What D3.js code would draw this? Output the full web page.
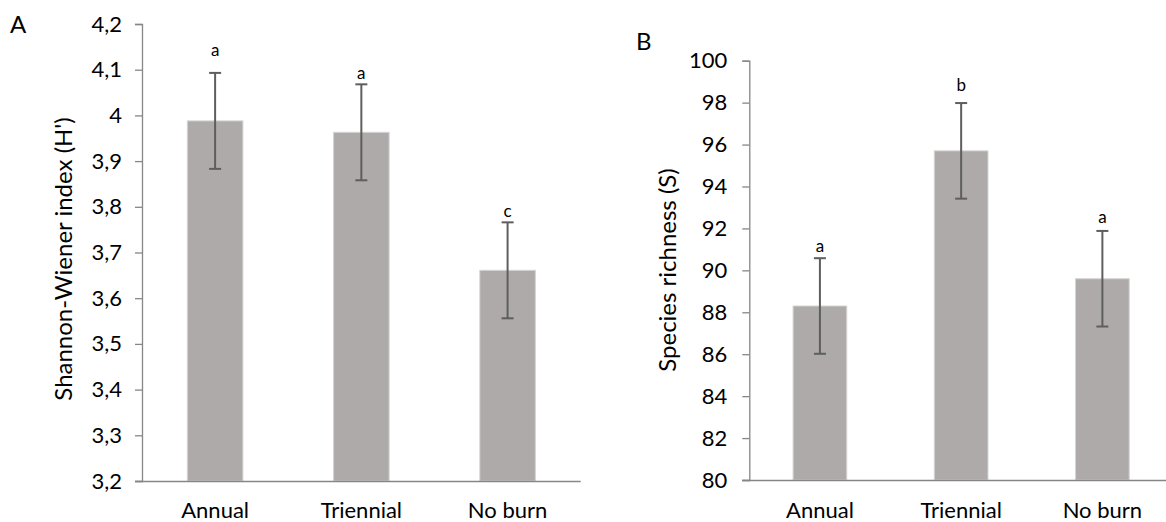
<!DOCTYPE html>
<html>
<head>
<meta charset="utf-8">
<script src="https://cdn.jsdelivr.net/npm/d3@7"></script>
<style>
  html, body { margin: 0; padding: 0; background: #fff; }
  svg { display: block; font-family: Lato, "Liberation Sans", sans-serif; }
</style>
</head>
<body>
<svg id="chart" width="1166" height="522"></svg>
<script>
// Burn treatments shared by both panels
const categories = ["Annual", "Triennial", "No burn"];

// Panel A: Shannon-Wiener diversity
const shannonMean = [3.988, 3.963, 3.661];
const shannonSE = [0.105, 0.105, 0.105];
const shannonLetters = ["a", "a", "c"];
const shannonLetterAt = [4.140, 4.090, 3.788];
const shannonTicks = [3.2, 3.3, 3.4, 3.5, 3.6, 3.7, 3.8, 3.9, 4.0, 4.1, 4.2];

// Panel B: species richness
const richnessMean = [88.3, 95.7, 89.6];
const richnessSE = [2.28, 2.28, 2.28];
const richnessLetters = ["a", "b", "a"];
const richnessLetterAt = [91.1, 98.75, 92.45];
const richnessTicks = [80, 82, 84, 86, 88, 90, 92, 94, 96, 98, 100];

const svg = d3.select("#chart");
const commaFmt = v => String(+v.toFixed(1)).replace(".", ",");
const FONT = "Lato, 'Liberation Sans', sans-serif";

function panel(opts) {
  const g = svg.append("g");
  const x = d3.scaleBand().domain(categories)
    .range([opts.x0, opts.x1]).paddingInner(opts.pad).paddingOuter(opts.pad / 2);
  const y = d3.scaleLinear().domain(opts.domain).range([opts.yBottom, opts.yTop]);

  // bars
  g.selectAll("rect.bar").data(categories).join("rect")
    .attr("class", "bar")
    .attr("x", d => x(d))
    .attr("width", x.bandwidth())
    .attr("y", (d, i) => y(opts.mean[i]))
    .attr("height", (d, i) => y(opts.domain[0]) - y(opts.mean[i]))
    .attr("fill", "#aeaaa9")
    .attr("stroke", "#d6d4d3")
    .attr("stroke-width", 1);

  // error bars
  const cx = d => x(d) + x.bandwidth() / 2;
  const eb = g.selectAll("g.err").data(categories).join("g").attr("class", "err")
    .attr("stroke", "#5e5e5e").attr("stroke-width", 2);
  eb.append("line")
    .attr("x1", cx).attr("x2", cx)
    .attr("y1", (d, i) => y(opts.mean[i] + opts.se[i]))
    .attr("y2", (d, i) => y(opts.mean[i] - opts.se[i]));
  [1, -1].forEach(s => {
    eb.append("line")
      .attr("x1", d => cx(d) - 6).attr("x2", d => cx(d) + 6)
      .attr("y1", (d, i) => y(opts.mean[i] + s * opts.se[i]))
      .attr("y2", (d, i) => y(opts.mean[i] + s * opts.se[i]));
  });

  // significance letters
  g.selectAll("text.letter").data(categories).join("text")
    .attr("class", "letter")
    .attr("x", cx)
    .attr("y", (d, i) => y(opts.letterAt[i]))
    .attr("text-anchor", "middle")
    .attr("dominant-baseline", "middle")
    .attr("font-size", 17)
    .attr("fill", "#000")
    .text((d, i) => opts.letters[i]);

  // y axis
  const yAxis = g.append("g")
    .attr("transform", `translate(${opts.x0},0)`)
    .call(d3.axisLeft(y).tickValues(opts.ticks).tickFormat(opts.fmt).tickSize(7).tickPadding(opts.tickPad));
  yAxis.select(".domain").attr("stroke", "#868686").attr("stroke-width", 1.3);
  yAxis.selectAll(".tick line").attr("stroke", "#868686").attr("stroke-width", 1.3);
  yAxis.selectAll(".tick text").attr("font-size", 22).attr("fill", "#000")
    .attr("font-family", FONT);

  // x axis
  const xAxis = g.append("g")
    .attr("transform", `translate(0,${opts.yBottom})`)
    .call(d3.axisBottom(x).tickSize(0).tickPadding(opts.catPad));
  xAxis.select(".domain").attr("stroke", "#868686").attr("stroke-width", 1.3)
    .attr("d", `M${opts.x0 - 7},0.5H${opts.x1}`);
  xAxis.selectAll(".tick text").attr("font-size", 22).attr("fill", "#000")
    .attr("font-family", FONT);

  // axis title
  g.append("text")
    .attr("transform", `translate(${opts.titleX},${opts.titleY}) rotate(-90)`)
    .attr("text-anchor", "middle")
    .attr("dominant-baseline", "middle")
    .attr("font-size", 24)
    .attr("fill", "#000")
    .text(opts.title);

  // panel letter
  svg.append("text")
    .attr("x", opts.tagX).attr("y", opts.tagY)
    .attr("font-size", 24).attr("fill", "#000")
    .text(opts.tag);
}

panel({
  x0: 142, x1: 580.7, yTop: 24, yBottom: 481,
  pad: 0.62, tickPad: 13, catPad: 21,
  domain: [3.2, 4.2], ticks: shannonTicks, fmt: commaFmt,
  mean: shannonMean, se: shannonSE, letters: shannonLetters, letterAt: shannonLetterAt,
  title: "Shannon-Wiener index (H')", titleX: 66, titleY: 259,
  tag: "A", tagX: 10, tagY: 33
});

panel({
  x0: 749.3, x1: 1173, yTop: 60.7, yBottom: 480,
  pad: 0.62, tickPad: 15, catPad: 22,
  domain: [80, 100], ticks: richnessTicks, fmt: d3.format("d"),
  mean: richnessMean, se: richnessSE, letters: richnessLetters, letterAt: richnessLetterAt,
  title: "Species richness (S)", titleX: 670, titleY: 270,
  tag: "B", tagX: 636, tagY: 50
});
</script>
</body>
</html>
